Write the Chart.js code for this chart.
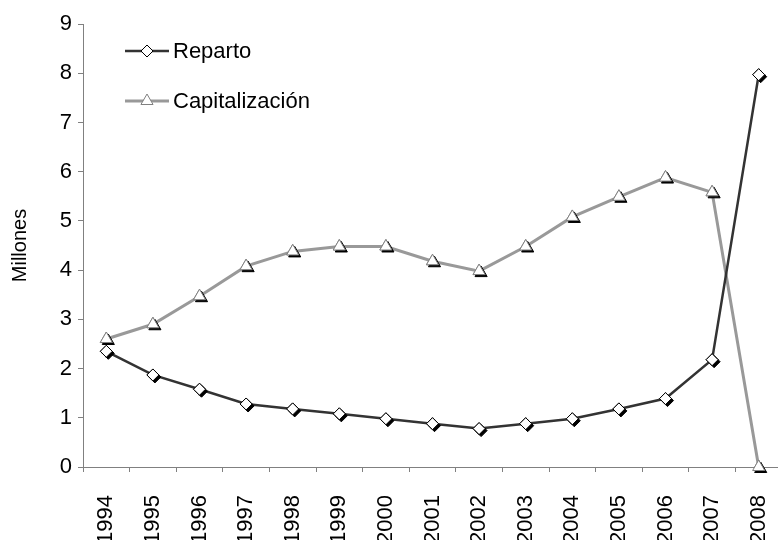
<!DOCTYPE html>
<html>
<head>
<meta charset="utf-8">
<script src="https://cdn.jsdelivr.net/npm/chart.js@4/dist/chart.umd.min.js"></script>
<style>
  html, body { margin:0; padding:0; background:#fff; overflow:hidden; }
  #wrap { width:790px; height:540px; }
</style>
</head>
<body>
<div id="wrap"><canvas id="chart" width="790" height="540"></canvas></div>
<script>
const years = ["1994","1995","1996","1997","1998","1999","2000","2001","2002","2003","2004","2005","2006","2007","2008"];
const reparto = [2.35, 1.87, 1.58, 1.28, 1.18, 1.08, 0.98, 0.88, 0.78, 0.88, 0.98, 1.18, 1.39, 2.18, 7.97];
const capitalizacion = [2.6, 2.9, 3.47, 4.08, 4.38, 4.48, 4.48, 4.18, 3.98, 4.48, 5.08, 5.49, 5.88, 5.58, 0];
const yTicks = [0,1,2,3,4,5,6,7,8,9];

const FONT = "'Liberation Sans', Arial, sans-serif";
const AXIS = "#808080";

// Excel-like drop shadow under each marker
const markerShadow = {
  id: "markerShadow",
  afterDatasetDraw(chart, args){
    const ctx = chart.ctx;
    args.meta.data.forEach(pt => {
      const o = pt.options;
      const p = { pointStyle:o.pointStyle, radius:o.radius, rotation:o.rotation || 0, borderWidth:o.borderWidth };
      ctx.save();
      ctx.fillStyle = "#000"; ctx.strokeStyle = "#000"; ctx.lineWidth = 1;
      Chart.helpers.drawPoint(ctx, p, pt.x + 2, pt.y + 2);
      ctx.fillStyle = o.backgroundColor; ctx.strokeStyle = o.borderColor; ctx.lineWidth = o.borderWidth;
      Chart.helpers.drawPoint(ctx, p, pt.x, pt.y);
      ctx.restore();
    });
  }
};

// legend drawn inside the plot, top-left
const innerLegend = {
  id: "innerLegend",
  afterDraw(chart){
    const ctx = chart.ctx;
    const rows = [51, 101];
    chart.data.datasets.forEach((ds, i) => {
      const y = rows[i];
      ctx.save();
      ctx.strokeStyle = ds.borderColor; ctx.lineWidth = ds.borderWidth;
      ctx.beginPath(); ctx.moveTo(125, y); ctx.lineTo(169, y); ctx.stroke();
      ctx.fillStyle = ds.pointBackgroundColor; ctx.strokeStyle = ds.pointBorderColor; ctx.lineWidth = 1;
      Chart.helpers.drawPoint(ctx, { pointStyle:ds.pointStyle, radius:ds.pointRadius, rotation:0, borderWidth:1 }, 147, y);
      ctx.fillStyle = "#000";
      ctx.font = "22px " + FONT;
      ctx.textBaseline = "middle";
      ctx.fillText(ds.label, 173, y + 1);
      ctx.restore();
    });
  }
};

new Chart(document.getElementById("chart"), {
  type: "line",
  data: {
    labels: years,
    datasets: [
      {
        label: "Reparto",
        data: reparto,
        borderColor: "#333333",
        borderWidth: 2.5,
        pointStyle: "rectRot",
        pointRadius: 6,
        pointBackgroundColor: "#ffffff",
        pointBorderColor: "#000000",
        pointBorderWidth: 1,
        tension: 0
      },
      {
        label: "Capitalización",
        data: capitalizacion,
        borderColor: "#999999",
        borderWidth: 3,
        pointStyle: "triangle",
        pointRadius: 7,
        pointBackgroundColor: "#ffffff",
        pointBorderColor: "#808080",
        pointBorderWidth: 1,
        tension: 0
      }
    ]
  },
  options: {
    responsive: false,
    animation: false,
    devicePixelRatio: 1,
    layout: { padding: { top: 24, right: 4, left: 0, bottom: 0 } },
    plugins: { legend: { display: false }, tooltip: { enabled: false } },
    scales: {
      x: {
        offset: true,
        grid: { offset: true, drawOnChartArea: false, tickLength: 5, color: AXIS },
        border: { color: AXIS, width: 1 },
        ticks: { color: "#000", font: { family: FONT, size: 22 }, minRotation: 90, maxRotation: 90, padding: 23, autoSkip: false },
        afterFit(s){ s.height = 73; s.paddingLeft = 0; s.paddingRight = 0; }
      },
      y: {
        min: 0, max: 9,
        afterBuildTicks(s){ s.ticks = yTicks.map(v => ({ value: v })); },
        grid: { drawOnChartArea: false, tickLength: 5, color: AXIS },
        border: { color: AXIS, width: 1 },
        ticks: { color: "#000", font: { family: FONT, size: 22 }, padding: 6 },
        title: { display: true, text: "Millones", color: "#000", font: { family: FONT, size: 20 }, padding: { top: 8, bottom: 0 } },
        afterFit(s){ s.width = 83; s.paddingTop = 0; s.paddingBottom = 0; }
      }
    }
  },
  plugins: [markerShadow, innerLegend]
});
</script>
</body>
</html>
